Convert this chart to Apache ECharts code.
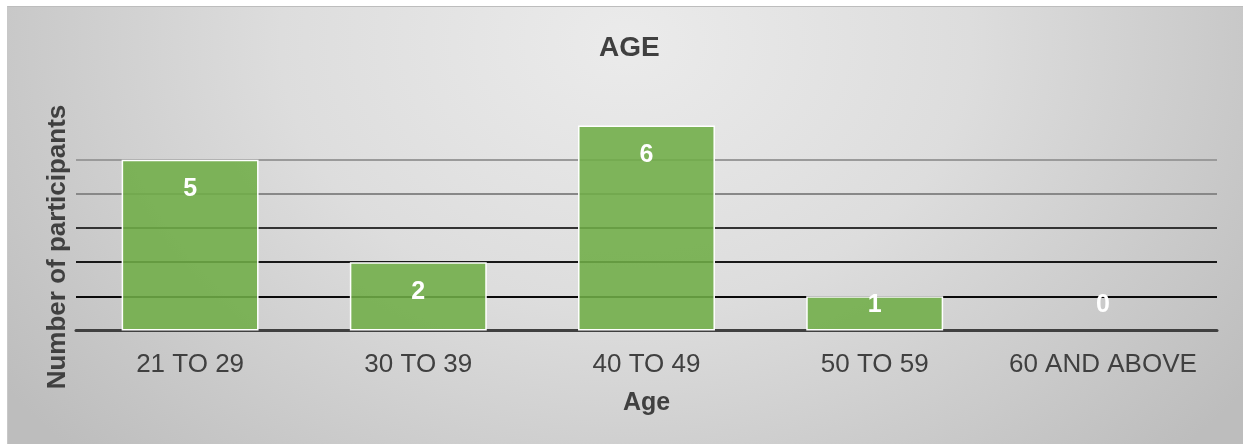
<!DOCTYPE html>
<html>
<head>
<meta charset="utf-8">
<script src="https://cdn.jsdelivr.net/npm/echarts@6/dist/echarts.min.js"></script>
<style>
  html, body { margin: 0; padding: 0; background: #ffffff; }
  #bg {
    position: absolute; left: 7px; top: 6px; width: 1236px; height: 438px;
    border-top: 1px solid #bdbdbd; border-left: 1px solid #c8c8c8;
    background: radial-gradient(ellipse 62% 135% at 50% 8%, #ebebeb 0%, #dddddd 45%, #bdbdbd 100%);
  }
  #chart { position: absolute; left: 0; top: 0; width: 1243px; height: 444px; }
</style>
</head>
<body>
<div id="bg"></div>
<div id="chart"></div>
<script>
const chartTitle = 'AGE';
const categories = ['21 TO 29', '30 TO 39', '40 TO 49', '50 TO 59', '60 AND ABOVE'];
const participants = [5, 2, 6, 1, 0];
const xAxisName = 'Age';
const yAxisName = 'Number of participants';

const FONT = '"Liberation Sans", Arial, sans-serif';

const chart = echarts.init(document.getElementById('chart'), null, { renderer: 'canvas' });

const barData = participants.map(v => ({
  value: v,
  itemStyle: v === 0 ? { borderWidth: 0 } : undefined,
  label: v <= 1
    ? { position: 'insideBottom', distance: 13 }
    : { position: 'insideTop', distance: 17 }
}));

chart.setOption({
  backgroundColor: 'transparent',
  animation: false,
  title: {
    text: chartTitle,
    left: 594,
    top: 29,
    textStyle: { fontFamily: FONT, fontSize: 28, fontWeight: 'bold', color: '#404040' }
  },
  grid: { left: 76, right: 26, top: 125.5, height: 205 },
  xAxis: {
    type: 'category',
    data: categories,
    name: xAxisName,
    nameLocation: 'middle',
    nameGap: 60,
    nameTextStyle: { fontFamily: FONT, fontSize: 25, fontWeight: 'bold', color: '#404040' },
    axisLine: { lineStyle: { color: '#404040', width: 3 } },
    axisTick: { show: false },
    axisLabel: { interval: 0, fontFamily: FONT, fontSize: 26, color: '#404040', margin: 21 },
    splitLine: { show: false }
  },
  yAxis: {
    type: 'value',
    min: 0,
    max: 6,
    interval: 1,
    name: yAxisName,
    nameLocation: 'middle',
    nameRotate: 90,
    nameGap: 5,
    nameTextStyle: { fontFamily: FONT, fontSize: 26, fontWeight: 'bold', color: '#404040', padding: [0, 38, 0, 0] },
    axisLine: { show: false },
    axisTick: { show: false },
    axisLabel: { show: false },
    splitLine: {
      show: true,
      lineStyle: {
        width: 2,
        color: ['rgba(0,0,0,0)', '#0a0a0a', '#181818', '#333333', '#888888', '#9a9a9a', 'rgba(0,0,0,0)']
      }
    }
  },
  series: [{
    type: 'bar',
    data: barData,
    barCategoryGap: '40%',
    itemStyle: { color: 'rgba(112,173,71,0.88)', borderColor: '#ffffff', borderWidth: 1.5 },
    label: {
      show: true,
      fontFamily: FONT,
      fontSize: 25,
      fontWeight: 'bold',
      color: '#ffffff'
    }
  }]
});
</script>
</body>
</html>
